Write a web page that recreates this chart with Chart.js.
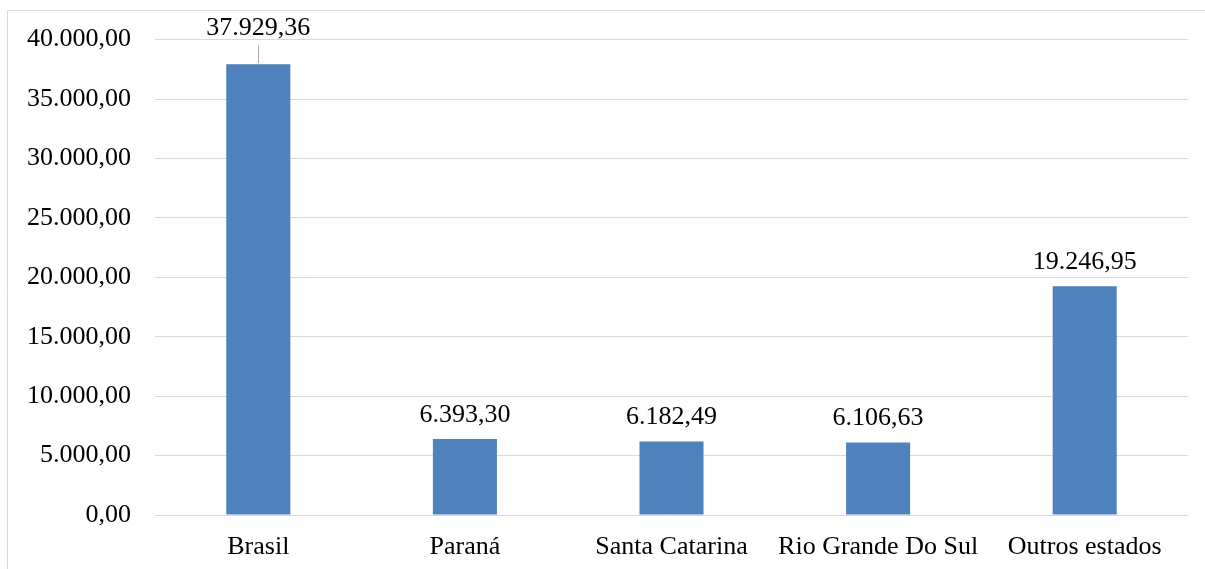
<!DOCTYPE html>
<html>
<head>
<meta charset="utf-8">
<script src="https://cdn.jsdelivr.net/npm/chart.js@4"></script>
<style>
  html, body { margin: 0; padding: 0; background: #fff; }
  canvas { display: block; }
</style>
</head>
<body>
<canvas id="grafico" width="1205" height="569"></canvas>
<script>
const categorias = ['Brasil', 'Paraná', 'Santa Catarina', 'Rio Grande Do Sul', 'Outros estados'];
const valores = [37929.36, 6393.30, 6182.49, 6106.63, 19246.95];
const eixoMin = 0;
const eixoMax = 40000;
const eixoPasso = 5000;

const fonte = '"Liberation Serif", "Times New Roman", serif';

function formatarBR(v) {
    const partes = Math.abs(v).toFixed(2).split('.');
    const inteiro = partes[0].replace(/\B(?=(\d{3})+(?!\d))/g, '.');
    return (v < 0 ? '-' : '') + inteiro + ',' + partes[1];
}

// moldura cinza clara em volta do gráfico
const moldura = {
    id: 'moldura',
    beforeDraw(chart) {
        const ctx = chart.ctx;
        ctx.save();
        ctx.strokeStyle = '#d9d9d9';
        ctx.lineWidth = 1;
        ctx.beginPath();
        ctx.moveTo(7.5, chart.height);
        ctx.lineTo(7.5, 10.5);
        ctx.lineTo(chart.width, 10.5);
        ctx.stroke();
        ctx.restore();
    }
};

// rótulos de valor em cima das barras
const rotulos = {
    id: 'rotulos',
    afterDatasetsDraw(chart) {
        const ctx = chart.ctx;
        const meta = chart.getDatasetMeta(0);
        const area = chart.chartArea;
        ctx.save();
        ctx.font = '26px ' + fonte;
        ctx.fillStyle = '#000';
        ctx.textAlign = 'center';
        ctx.textBaseline = 'middle';
        meta.data.forEach((barra, i) => {
            let y = barra.y - 24;
            if (y - 12 < area.top) {
                // rótulo levado para cima da área, com linha de chamada
                y = area.top - 11;
                ctx.strokeStyle = '#a6a6a6';
                ctx.lineWidth = 1;
                ctx.beginPath();
                ctx.moveTo(Math.round(barra.x) + 0.5, y + 17);
                ctx.lineTo(Math.round(barra.x) + 0.5, barra.y - 1);
                ctx.stroke();
            }
            ctx.fillText(formatarBR(chart.data.datasets[0].data[i]), barra.x, y);
        });
        ctx.restore();
    }
};

const ctx = document.getElementById('grafico').getContext('2d');
new Chart(ctx, {
    type: 'bar',
    data: {
        labels: categorias,
        datasets: [{
            data: valores,
            backgroundColor: '#4f81bd',
            borderWidth: 0,
            categoryPercentage: 1,
            barPercentage: 0.31
        }]
    },
    options: {
        responsive: false,
        animation: false,
        layout: { padding: { left: 0, right: 17, top: 39, bottom: 0 } },
        plugins: {
            legend: { display: false },
            tooltip: { enabled: false }
        },
        scales: {
            x: {
                grid: { display: false, drawTicks: false },
                border: { display: false },
                ticks: {
                    color: '#000',
                    padding: 17,
                    maxRotation: 0,
                    autoSkip: false,
                    font: { family: fonte, size: 26 }
                },
                afterFit(axis) { axis.height = 54; }
            },
            y: {
                min: eixoMin,
                max: eixoMax,
                grid: { color: '#d9d9d9', drawTicks: false, lineWidth: 1 },
                border: { display: false },
                ticks: {
                    stepSize: eixoPasso,
                    color: '#000',
                    padding: 24,
                    font: { family: fonte, size: 26 },
                    callback: (v) => formatarBR(v)
                },
                afterFit(axis) { axis.width = 155; }
            }
        }
    },
    plugins: [moldura, rotulos]
});
</script>
</body>
</html>
